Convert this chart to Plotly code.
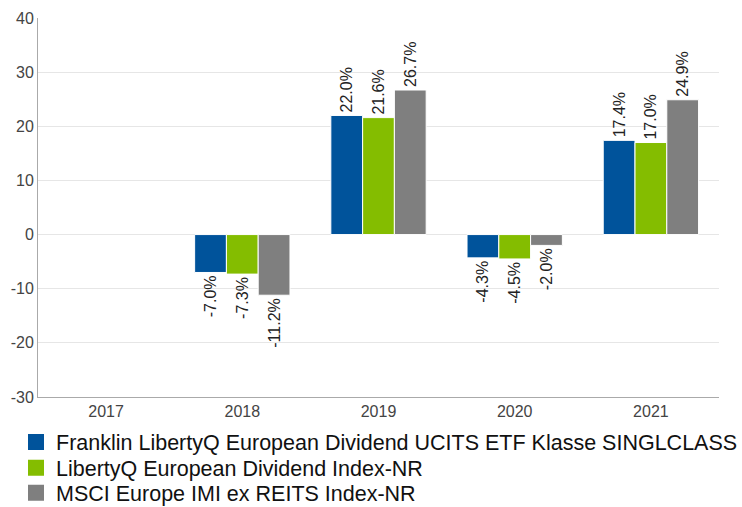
import plotly.graph_objects as go

years = ["2017", "2018", "2019", "2020", "2021"]
fund = [None, -7.0, 22.0, -4.3, 17.4]
index_nr = [None, -7.3, 21.6, -4.5, 17.0]
msci = [None, -11.2, 26.7, -2.0, 24.9]
y_ticks = [-30, -20, -10, 0, 10, 20, 30, 40]
y_tick_labels = ["-30", "-20", "-10", "0", "10", "20", "30", "40"]

names = [
    "Franklin LibertyQ European Dividend UCITS ETF Klasse SINGLCLASS",
    "LibertyQ European Dividend Index-NR",
    "MSCI Europe IMI ex REITS Index-NR",
]
colors = ["#00539B", "#84BD00", "#7F7F7F"]
series = [fund, index_nr, msci]

FONT = "Liberation Sans, Arial"

fig = go.Figure()
for name, vals, col in zip(names, series, colors):
    fig.add_trace(go.Bar(
        x=years, y=vals, name=name, showlegend=False,
        marker=dict(color=col, line=dict(color="white", width=1)),
        text=[None if v is None else f"{v:.1f}%" for v in vals],
        textposition="outside", textangle=-90, constraintext="none",
        textfont=dict(family=FONT, size=16, color="#222"),
        cliponaxis=False, hoverinfo="skip",
    ))

legend_ids = ["legend", "legend2", "legend3"]
legend_y = [-0.119, -0.187, -0.253]
for name, col, lid in zip(names, colors, legend_ids):
    fig.add_trace(go.Scatter(
        x=[None], y=[None], mode="markers", name=name, legend=lid,
        marker=dict(symbol="square", size=16, color=col),
    ))

legend_style = dict(
    orientation="v", x=-0.0323, xanchor="left", yanchor="middle",
    font=dict(family=FONT, size=21.5, color="#111"), itemwidth=30,
    bgcolor="rgba(0,0,0,0)", borderwidth=0,
)
layout_legends = {lid: dict(legend_style, y=ly) for lid, ly in zip(legend_ids, legend_y)}

fig.update_layout(
    width=742, height=507,
    margin=dict(l=38, r=23, t=18, b=110, autoexpand=False),
    plot_bgcolor="white", paper_bgcolor="white",
    barmode="group", bargap=0.3, bargroupgap=0,
    font=dict(family=FONT, size=16, color="#444"),
    showlegend=True,
    **layout_legends,
)
fig.update_xaxes(
    showline=True, linecolor="#aaa", linewidth=1, ticks="", showgrid=False,
    tickfont=dict(size=16, color="#444"), automargin=False,
)
fig.update_yaxes(
    range=[-30, 40], tickmode="array", tickvals=y_ticks, ticktext=y_tick_labels,
    showline=True, linecolor="#aaa", linewidth=1,
    gridcolor="#e6e6e6", zeroline=True, zerolinecolor="#e6e6e6", zerolinewidth=1,
    tickfont=dict(size=16, color="#444"), ticks="", automargin=False,
)

fig.write_html(
    "out.html",
    config={"displayModeBar": False},
    post_script="document.body.style.margin='0';",
)
